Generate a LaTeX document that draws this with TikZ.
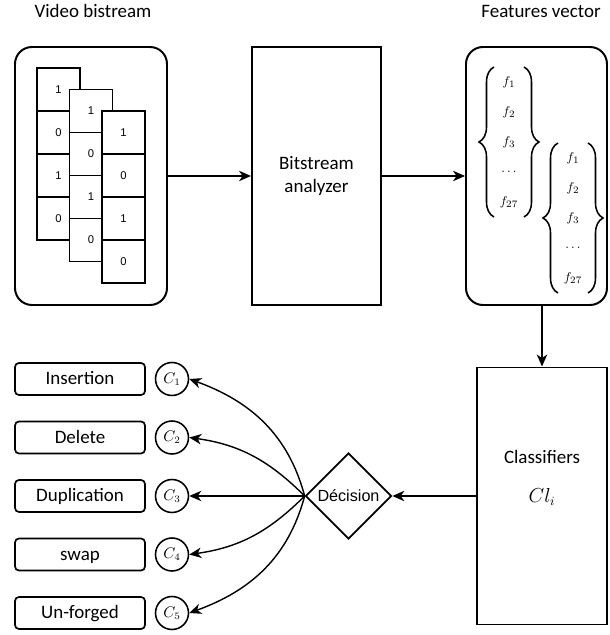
\documentclass[tikz,border=0pt]{standalone}
\usepackage[no-math]{fontspec}
\setmainfont{Carlito}
\newfontfamily\arialfont{Liberation Sans}
\usetikzlibrary{arrows.meta,shapes.geometric,decorations.pathreplacing}

\tikzset{
  >={Stealth[length=3mm,width=2.6mm,inset=0.9mm]},
  bigbox/.style={draw,line width=1.4pt,fill=white,inner sep=0pt,minimum height=64.5mm},
  roundbox/.style={bigbox,rounded corners=4.25mm},
  cell/.style={draw,line width=1.3pt,fill=white,minimum size=10.75mm,inner sep=0pt,font=\arialfont\fontsize{8}{9.6}\selectfont},
  labelbox/.style={draw,line width=1.2pt,rounded corners=1mm,minimum width=32.5mm,minimum height=8mm,inner sep=0pt,text height=9.5pt,text depth=1.5pt},
  classnode/.style={draw,circle,line width=1.1pt,minimum size=8.25mm,inner sep=0pt,font=\fontsize{10.5}{12}\selectfont},
  vecentry/.style={inner sep=0pt,font=\fontsize{9.5}{11}\selectfont},
  vecbrace/.style={decorate,decoration={brace,amplitude=3.75mm},line width=1.1pt},
  arrowline/.style={->,line width=1pt},
}

\begin{document}
\begin{tikzpicture}[x=0.25mm,y=0.25mm,font=\fontsize{13.5}{16.5}\selectfont]
\useasboundingbox (0,0) rectangle (609,635);
%titles
\node[anchor=base] (vtitle) at (93,617) {Video bistream};
\node[anchor=base] (ftitle) at (541,617) {Features vector};
%
%video bitstream
\node[roundbox,minimum width=38mm] (video) at (91,459) {};
\foreach \c in {0,1,2}
  \foreach \r/\bit in {0/1,1/0,2/1,3/0}
    \node[cell] (cell\c\r) at (58.5+32.5*\c,545.5-21.5*\c-43*\r) {\bit};
%
\node[bigbox,minimum width=32.25mm,align=center] (analyzer) at (316.5,459) {Bitstream\\analyzer};
%
%features vector
\node[roundbox,minimum width=35.25mm] (features) at (536.5,459) {};
\foreach \entry [count=\i] in {f_1,f_2,f_3,\dots,f_{27}}{
  \node[vecentry] (fa\i) at (509,583-30*\i) {$\entry$};
  \node[vecentry] (fb\i) at (573,507-30*\i) {$\entry$};
}
\draw[vecbrace] (494,418) -- (494,568);
\draw[vecbrace] (524,568) -- (524,418);
\draw[vecbrace] (558,342) -- (558,492);
\draw[vecbrace] (588,492) -- (588,342);
%
\draw[arrowline] (video) -- (analyzer);
\draw[arrowline] (analyzer) -- (features);
%
%classifiers
\node[bigbox,minimum width=32.5mm,minimum height=64.25mm] (classif) at (542,139) {};
\node (classtxt) at (542,178) {Classifiers};
\node (classcl) at (542,138) {$Cl_i$};
\draw[arrowline] (features.south -| classif.north) -- (classif.north);
%
\node[draw,diamond,aspect=1,line width=1.2pt,minimum size=21.5mm,inner sep=0pt,font=\arialfont\fontsize{11.5}{13}\selectfont] (dec) at (348.5,139) {Décision};
\draw[arrowline] (classif.west) -- (dec.east);
%
%classes
\foreach \lab [count=\i] in {Insertion,Delete,Duplication,swap,Un-forged}{
  \node[labelbox] (lab\i) at (80,314.5-58.5*\i) {\lab};
  \node[classnode] (c\i) at (172,314.5-58.5*\i) {$C_\i$};
}
\draw[arrowline] (dec.west) to[out=105,in=-20] (c1.east);
\draw[arrowline] (dec.west) to[out=135,in=-8] (c2.east);
\draw[arrowline] (dec.west) -- (c3.east);
\draw[arrowline] (dec.west) to[out=-135,in=8] (c4.east);
\draw[arrowline] (dec.west) to[out=-105,in=20] (c5.east);
\end{tikzpicture}
\end{document}
